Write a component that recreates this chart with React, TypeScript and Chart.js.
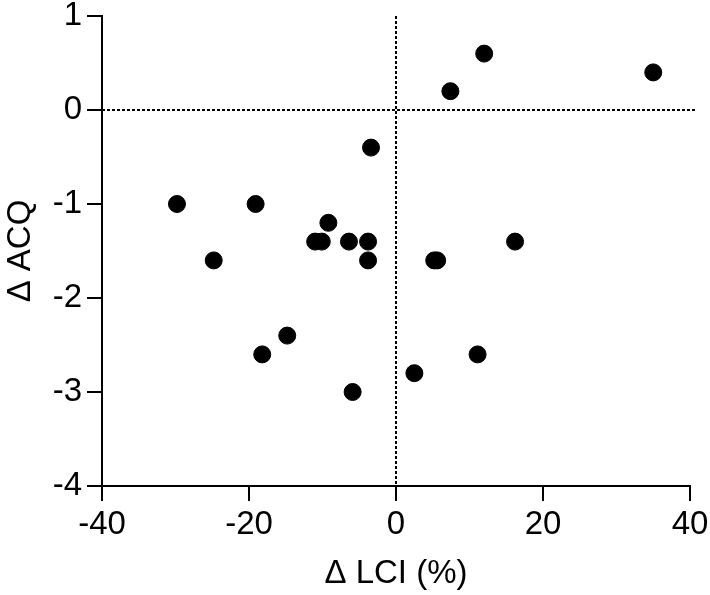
import React, { useEffect, useRef } from "react";
import { Chart, registerables } from "chart.js";

Chart.register(...registerables);

const deltaLCI: number[] = [12.0, 7.4, 35.0, 16.2, 5.2, 5.6, 2.5, 11.1, -29.8, -24.8, -19.1, -9.2, -11.0, -10.1, -6.4, -3.8, -3.8, -3.4, -18.2, -14.8, -5.9];
const deltaACQ: number[] = [0.6, 0.2, 0.4, -1.4, -1.6, -1.6, -2.8, -2.6, -1.0, -1.6, -1.0, -1.2, -1.4, -1.4, -1.4, -1.4, -1.6, -0.4, -2.6, -2.4, -3.0];

const xTitle = "Δ LCI (%)";
const yTitle = "Δ ACQ";
const xMin = -40, xMax = 40, xStep = 20;
const yMin = -4, yMax = 1, yStep = 1;

const FONT = "'Liberation Sans', Arial, Helvetica, sans-serif";

const zeroLines = {
  id: "zeroLines",
  beforeDatasetsDraw(chart: any) {
    const { ctx, chartArea, scales } = chart;
    const x0 = scales.x.getPixelForValue(0);
    const y0 = scales.y.getPixelForValue(0);
    ctx.save();
    ctx.strokeStyle = "#000";
    ctx.lineWidth = 2;
    ctx.setLineDash([3, 2]);
    ctx.beginPath();
    ctx.moveTo(chartArea.left, y0);
    ctx.lineTo(chartArea.right + 6, y0);
    ctx.moveTo(x0, chartArea.top);
    ctx.lineTo(x0, chartArea.bottom);
    ctx.stroke();
    ctx.restore();
  },
};

export default function App() {
  const ref = useRef<HTMLCanvasElement | null>(null);
  useEffect(() => {
    if (!ref.current) return;
    const data = deltaLCI.map((x, i) => ({ x, y: deltaACQ[i] }));
    const chart = new Chart(ref.current, {
      type: "scatter",
      data: {
        datasets: [
          {
            data,
            backgroundColor: "#000",
            borderColor: "#000",
            pointRadius: 8.5,
            pointHoverRadius: 8.5,
            clip: false as any,
          },
        ],
      },
      options: {
        responsive: false,
        animation: false,
        layout: { padding: { left: 0, top: 16, right: 20, bottom: 0 } },
        plugins: { legend: { display: false }, tooltip: { enabled: false } },
        scales: {
          x: {
            type: "linear",
            min: xMin,
            max: xMax,
            afterFit: (s: any) => { s.height = 109; s.paddingLeft = 0; s.paddingRight = 0; },
            ticks: { stepSize: xStep, color: "#000", font: { family: FONT, size: 33 }, padding: 4, maxRotation: 0 },
            border: { display: true, color: "#000", width: 2 },
            grid: { display: true, drawOnChartArea: false, drawTicks: true, tickLength: 15, color: "#000", lineWidth: 2 },
            title: { display: true, text: xTitle, color: "#000", font: { family: FONT, size: 33 }, padding: { top: 0, bottom: 1 } },
          },
          y: {
            type: "linear",
            min: yMin,
            max: yMax,
            afterFit: (s: any) => { s.width = 102; s.paddingTop = 0; s.paddingBottom = 0; },
            ticks: { stepSize: yStep, color: "#000", font: { family: FONT, size: 33 }, padding: 5 },
            border: { display: true, color: "#000", width: 2 },
            grid: { display: true, drawOnChartArea: false, drawTicks: true, tickLength: 15, color: "#000", lineWidth: 2 },
            title: { display: true, text: yTitle, color: "#000", font: { family: FONT, size: 33 }, padding: { top: 1, bottom: 0 } },
          },
        },
      },
      plugins: [zeroLines],
    });
    return () => chart.destroy();
  }, []);
  return (
    <div style={{ position: "absolute", left: 0, top: 0, width: 710, height: 595, background: "#fff" }}>
      <canvas ref={ref} width={710} height={595} />
    </div>
  );
}
